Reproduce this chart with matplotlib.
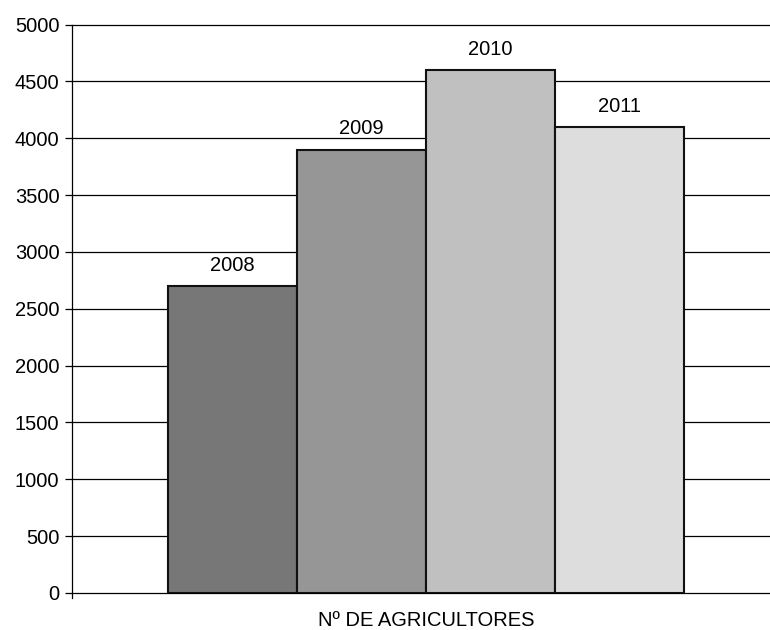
import matplotlib.pyplot as plt
import numpy as np

plt.rcParams['font.family'] = ['Liberation Sans', 'DejaVu Sans']

years = ['2008', '2009', '2010', '2011']
farmers = [2700, 3900, 4600, 4100]
colours = ['#777777', '#969696', '#c0c0c0', '#dddddd']
yticks = [0, 500, 1000, 1500, 2000, 2500, 3000, 3500, 4000, 4500, 5000]

fig = plt.figure(figsize=(7.7, 6.3), dpi=100)
ax = fig.add_axes([72 / 770, 1 - 593 / 630, 1 - 72 / 770, (593 - 24.5) / 630])

x = np.arange(len(years))
for xi, val, col, lab in zip(x, farmers, colours, years):
    ax.bar(xi, val, width=1.0, color=col, edgecolor='#111111', linewidth=1.5, zorder=3)
    ax.annotate(lab, (xi, val), xytext=(0, 8), textcoords='offset points',
                ha='center', va='bottom', fontsize=14.5)

ax.set_ylim(0, 5000)
ax.set_xlim(-1.248, 4.17)
ax.set_yticks(yticks)
ax.set_yticklabels([str(t) for t in yticks], fontsize=14.5)
ax.yaxis.grid(True, color='black', linewidth=0.9, zorder=0)
for gl in ax.get_ygridlines():
    gl.set_clip_on(False)
ax.tick_params(axis='y', length=5, width=0.9, pad=4)
ax.set_xticks([])
for s in ['top', 'right', 'bottom']:
    ax.spines[s].set_visible(False)
ax.spines['left'].set_linewidth(0.9)
ax.spines['left'].set_bounds(-40, 5000)
ax.set_xlabel('Nº DE AGRICULTORES', fontsize=14.5)
ax.xaxis.set_label_coords((426 - 72) / 698, -0.032)
ax.xaxis.label.set_va('top')

fig.savefig('out.png', dpi=100)
